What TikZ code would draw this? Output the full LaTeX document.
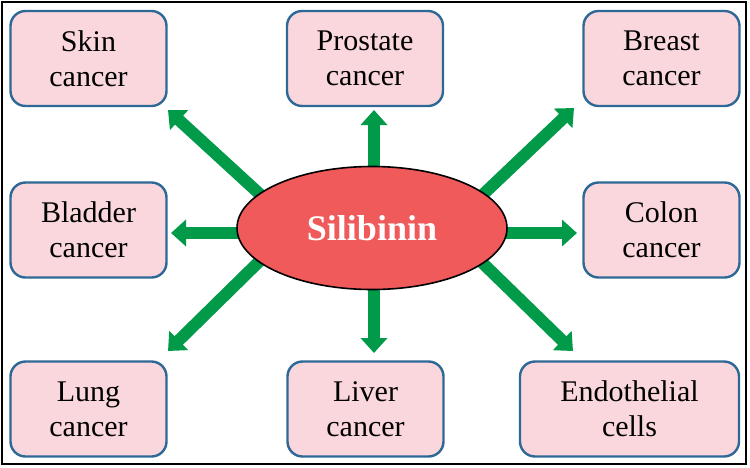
\documentclass[tikz,border=0pt]{standalone}
\usepackage{fontspec}
\setmainfont{Liberation Serif}
\usetikzlibrary{arrows.meta,shapes.geometric,calc,backgrounds}
\definecolor{arrgreen}{RGB}{0,154,73}
\definecolor{boxpink}{RGB}{250,214,221}
\definecolor{boxblue}{RGB}{46,104,150}
\definecolor{silred}{RGB}{240,90,90}

\begin{document}
\begin{tikzpicture}[x=1pt,y=-1pt,>={Triangle[width=26pt,length=15pt]},
    cancer/.style={draw=boxblue,line width=2.4pt,fill=boxpink,rounded corners=15pt,
      minimum width=156pt,minimum height=95pt,align=center,inner sep=0pt,
      font=\fontsize{30}{35}\selectfont},
    arr/.style={->,arrgreen,line width=12pt}]
          \useasboundingbox (0,0) rectangle (750,467);
          \draw[line width=2pt] (2,2) rectangle (746,464);

          \node[ellipse,draw,line width=1.6pt,fill=silred,minimum width=270pt,minimum height=123pt,
            inner sep=0pt,text=white,font=\fontsize{36}{40}\selectfont\bfseries] (sil) at (372,228) {Silibinin};

          \node[cancer] (skin) at (88.5,58.5) {Skin\\cancer};
          \node[cancer] (prostate) at (365,58.5) {Prostate\\cancer};
          \node[cancer] (breast) at (661.5,58.5) {Breast\\cancer};
          \node[cancer] (bladder) at (88.5,230) {Bladder\\cancer};
          \node[cancer] (colon) at (661.5,230) {Colon\\cancer};
          \node[cancer] (lung) at (88.5,409) {Lung\\cancer};
          \node[cancer] (liver) at (365.5,409) {Liver\\cancer};
          \node[cancer,minimum width=219pt] (endo) at (629.5,409) {Endothelial\\cells};

          \coordinate (tskin) at (168,110);
          \coordinate (tprostate) at (374,110);
          \coordinate (tbreast) at (574,108);
          \coordinate (tbladder) at (171,233);
          \coordinate (tcolon) at (577,233);
          \coordinate (tlung) at (168,351);
          \coordinate (tliver) at (374,353);
          \coordinate (tendo) at (573,351);

          % arrows start inside the ellipse, kept behind it
          \begin{scope}[on background layer]
          \draw[arr] ($(sil)+(-84,-8)$) -- (tskin);
          \draw[arr] ($(sil)+(2,-28)$) -- (tprostate);
          \draw[arr] ($(sil)+(82,-6)$) -- (tbreast);
          \draw[arr] ($(sil)+(-72,5)$) -- (tbladder);
          \draw[arr] ($(sil)+(73,5)$) -- (tcolon);
          \draw[arr] ($(sil)+(-94,15)$) -- (tlung);
          \draw[arr] ($(sil)+(2,32)$) -- (tliver);
          \draw[arr] ($(sil)+(91,16)$) -- (tendo);
          \end{scope}
        \end{tikzpicture}
\end{document}
